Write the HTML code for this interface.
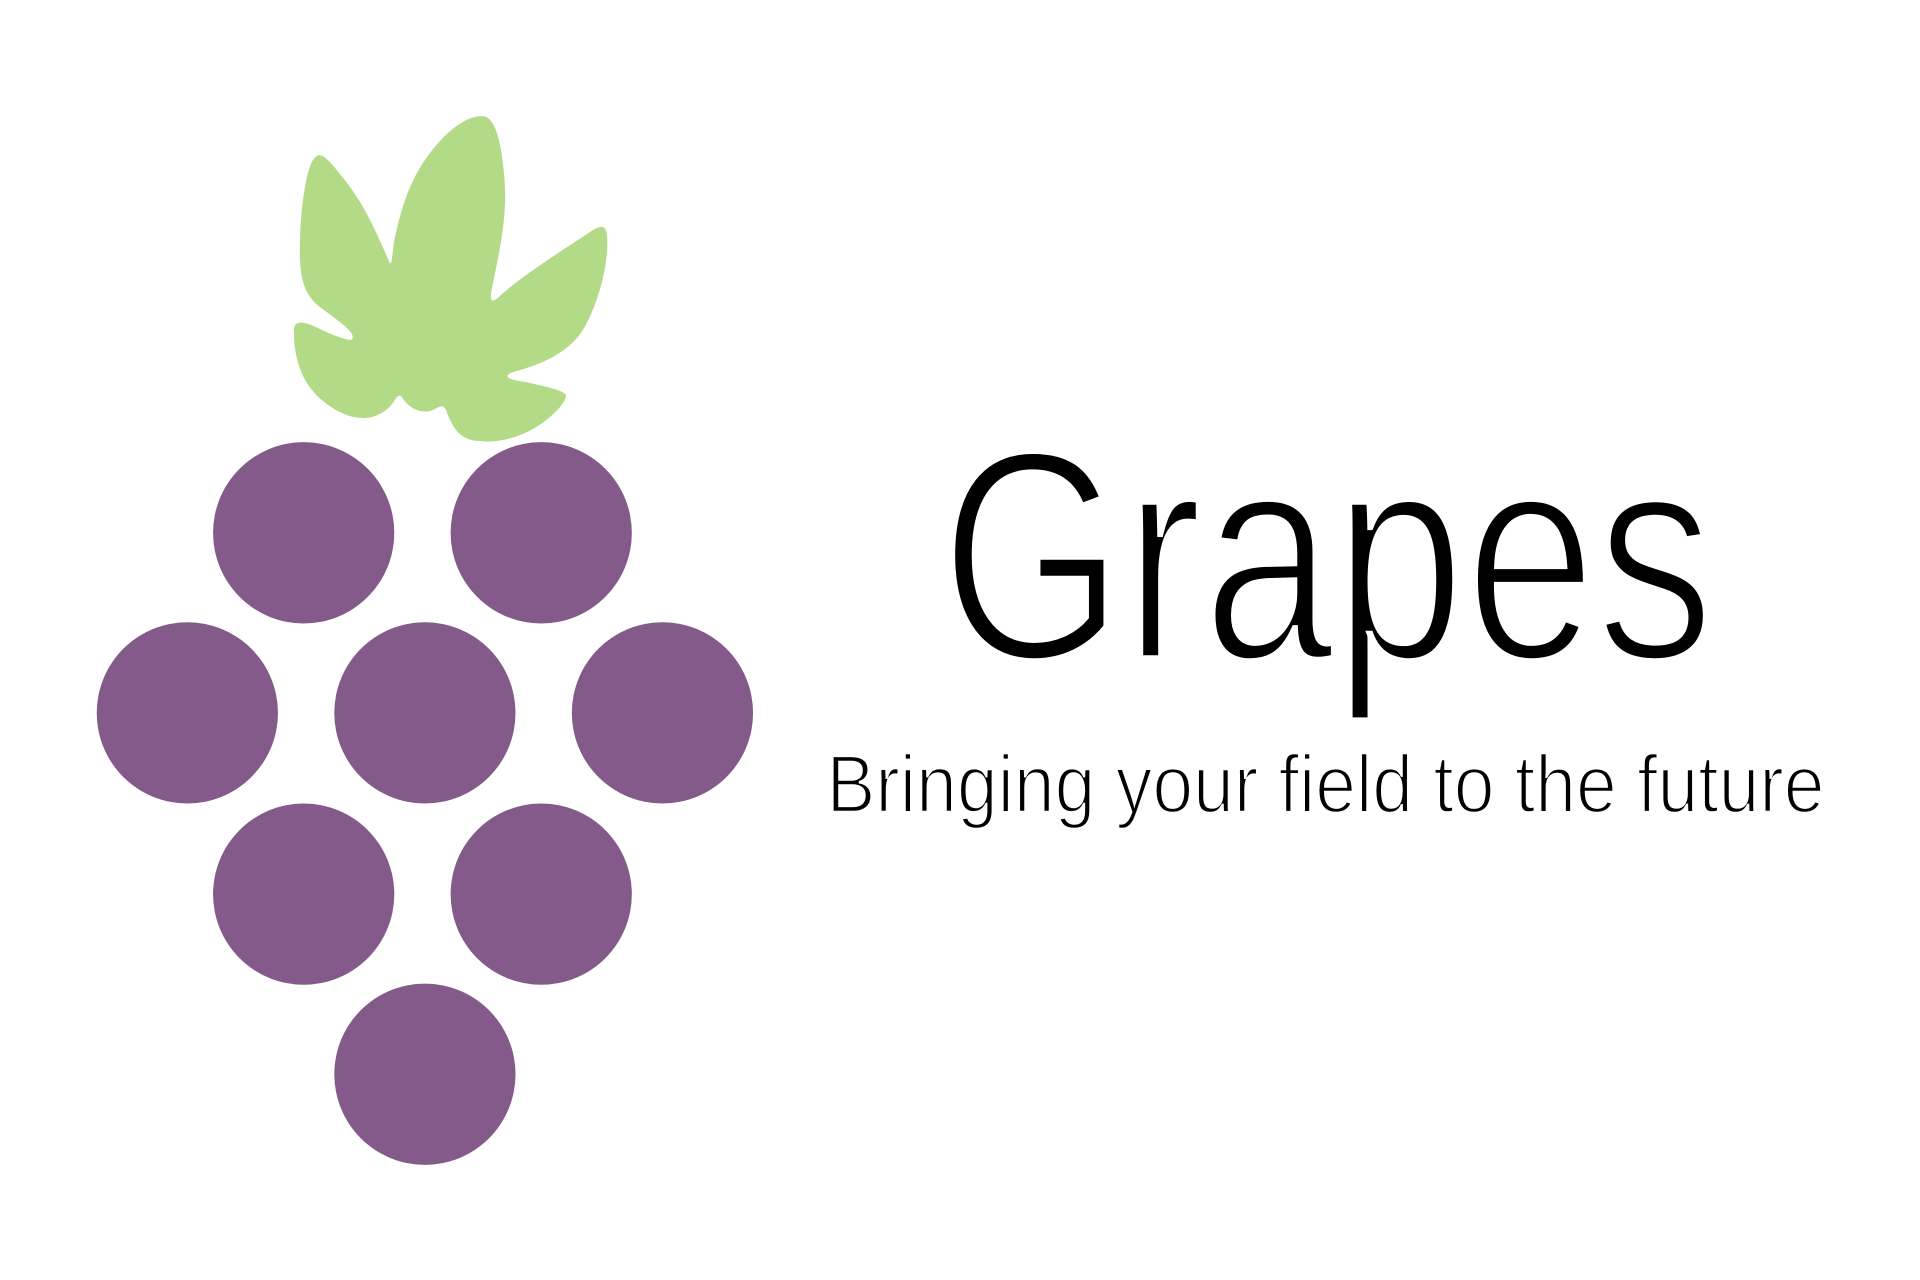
<!DOCTYPE html>
<html>
<head>
<meta charset="utf-8">
<style>
  html,body{margin:0;padding:0;background:#fff;width:1920px;height:1280px;overflow:hidden;}
  svg{display:block;}
</style>
</head>
<body>
<svg width="1920" height="1280" viewBox="0 0 1568 1045" preserveAspectRatio="none" xmlns="http://www.w3.org/2000/svg">
  <rect width="1568" height="1045" fill="#ffffff"/>
  <path fill="#b3db87"
    d="M392,360 C378,360 370,352 364,334 C360,328 356,336 348,336 C338,336 332,330 328,324 C324,320 322,330 316,334 C300,348 278,340 262,326 C246,312 240,292 240,270 C240,262 246,262 256,266 C272,274 288,280 288,276 C290,270 270,258 258,248 C248,238 244,226 245,196 C246,168 250,134 258,128 C262,124 268,130 276,140 C296,164 304,182 318,214 C320,218 320,210 322,196 C326,178 330,162 338,146 C352,118 378,92 396,95 C406,98 410,122 412,146 C414,174 410,196 402,234 C399,248 402,248 410,240 C428,224 460,204 484,188 C494,182 496,186 496,198 C496,220 488,248 478,266 C464,292 432,300 418,304 C410,308 416,310 430,312 C446,316 458,318 462,322 C464,328 448,344 432,352 C420,358 404,362 392,360 Z"/>
  <g fill="#845a8a">
    <circle cx="248" cy="435" r="74"/>
    <circle cx="442" cy="435" r="74"/>
    <circle cx="153" cy="582" r="74"/>
    <circle cx="347" cy="582" r="74"/>
    <circle cx="541" cy="582" r="74"/>
    <circle cx="248" cy="730" r="74"/>
    <circle cx="442" cy="730" r="74"/>
    <circle cx="347" cy="877" r="74"/>
  </g>
  <text x="768" y="538" font-family="'Liberation Sans', sans-serif" font-size="244" fill="#000" stroke="#fff" stroke-width="6" textLength="632" lengthAdjust="spacingAndGlyphs">Grapes</text>
  <text x="675" y="663" font-family="'Liberation Sans', sans-serif" font-size="67" fill="#000" stroke="#fff" stroke-width="2" textLength="815" lengthAdjust="spacingAndGlyphs">Bringing your field to the future</text>
</svg>
</body>
</html>
